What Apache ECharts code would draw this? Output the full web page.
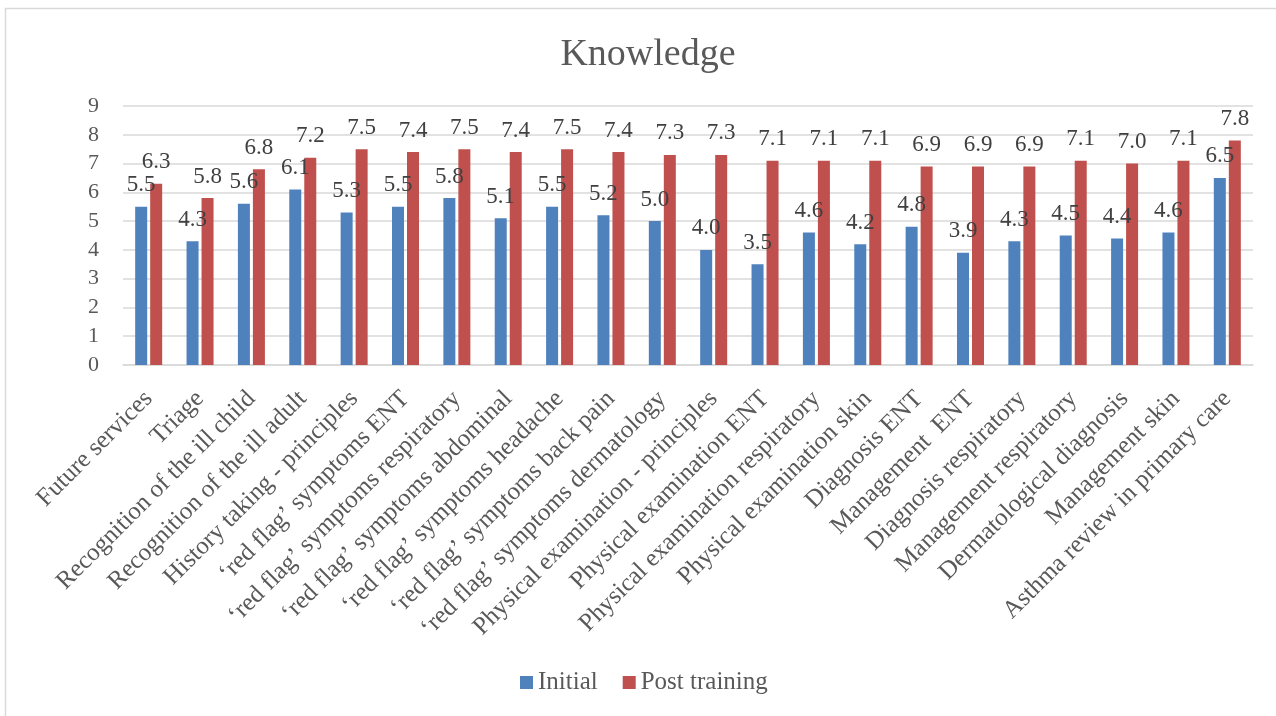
<!DOCTYPE html>
<html>
<head>
<meta charset="utf-8">
<title>Knowledge</title>
<script src="https://cdn.jsdelivr.net/npm/echarts@6/dist/echarts.min.js"></script>
<style>
  html, body { margin: 0; padding: 0; background: #fff; }
  #chart { width: 1276px; height: 716px; }
</style>
</head>
<body>
<div id="chart"></div>
<script>
const categories = [
  'Future services',
  'Triage',
  'Recognition of the ill child',
  'Recognition of the ill adult',
  'History taking - principles',
  '\u2018red flag\u2019 symptoms ENT',
  '\u2018red flag\u2019 symptoms respiratory',
  '\u2018red flag\u2019 symptoms abdominal',
  '\u2018red flag\u2019 symptoms headache',
  '\u2018red flag\u2019 symptoms back pain',
  '\u2018red flag\u2019 symptoms dermatology',
  'Physical examination - principles',
  'Physical examination ENT',
  'Physical examination respiratory',
  'Physical examination skin',
  'Diagnosis ENT',
  'Management  ENT',
  'Diagnosis respiratory',
  'Management respiratory',
  'Dermatological diagnosis',
  'Management skin',
  'Asthma review in primary care'
]
const initial = [5.5, 4.3, 5.6, 6.1, 5.3, 5.5, 5.8, 5.1, 5.5, 5.2, 5.0, 4.0, 3.5, 4.6, 4.2, 4.8, 3.9, 4.3, 4.5, 4.4, 4.6, 6.5]
const postTraining = [6.3, 5.8, 6.8, 7.2, 7.5, 7.4, 7.5, 7.4, 7.5, 7.4, 7.3, 7.3, 7.1, 7.1, 7.1, 6.9, 6.9, 6.9, 7.1, 7.0, 7.1, 7.8]

const font = 'Liberation Serif'
const textColor = '#595959'
const gridColor = '#D9D9D9'

const dataLabel = {
  show: true,
  position: 'top',
  distance: 10,
  fontFamily: font,
  fontSize: 23,
  color: '#404040',
  formatter: p => p.value.toFixed(1)
}

const chart = echarts.init(document.getElementById('chart'))
chart.setOption({
  animation: false,
  textStyle: { fontFamily: font },
  graphic: [{
    type: 'rect',
    shape: { x: 5.5, y: 8.5, width: 1300, height: 800 },
    style: { fill: 'none', stroke: gridColor, lineWidth: 1.5 },
    silent: true
  }],
  title: {
    text: 'Knowledge',
    left: 643,
    textAlign: 'center',
    top: 31,
    textStyle: { fontFamily: font, fontSize: 38, fontWeight: 'normal', color: textColor }
  },
  legend: {
    data: ['Initial', 'Post training'],
    left: 515,
    top: 665,
    icon: 'rect',
    itemWidth: 13,
    itemHeight: 13,
    itemGap: 25,
    selectedMode: false,
    textStyle: { fontFamily: font, fontSize: 25, color: textColor }
  },
  grid: { left: 123, right: 23, top: 106, bottom: 351 },
  xAxis: {
    type: 'category',
    data: categories,
    axisTick: { show: false },
    axisLine: { lineStyle: { color: gridColor, width: 1.5 } },
    axisLabel: {
      interval: 0,
      rotate: 45,
      margin: 30,
      fontFamily: font,
      fontSize: 25,
      color: textColor
    }
  },
  yAxis: {
    type: 'value',
    min: 0,
    max: 9,
    interval: 1,
    axisLine: { show: false },
    axisTick: { show: false },
    splitLine: { lineStyle: { color: gridColor, width: 1.5 } },
    axisLabel: { margin: 24, fontFamily: font, fontSize: 22, color: textColor }
  },
  series: [
    {
      name: 'Initial',
      type: 'bar',
      data: initial,
      barWidth: 12,
      barGap: '25%',
      itemStyle: { color: '#4F81BD' },
      label: dataLabel
    },
    {
      name: 'Post training',
      type: 'bar',
      data: postTraining,
      barWidth: 12,
      itemStyle: { color: '#C0504D' },
      label: dataLabel
    }
  ]
})
</script>
</body>
</html>
